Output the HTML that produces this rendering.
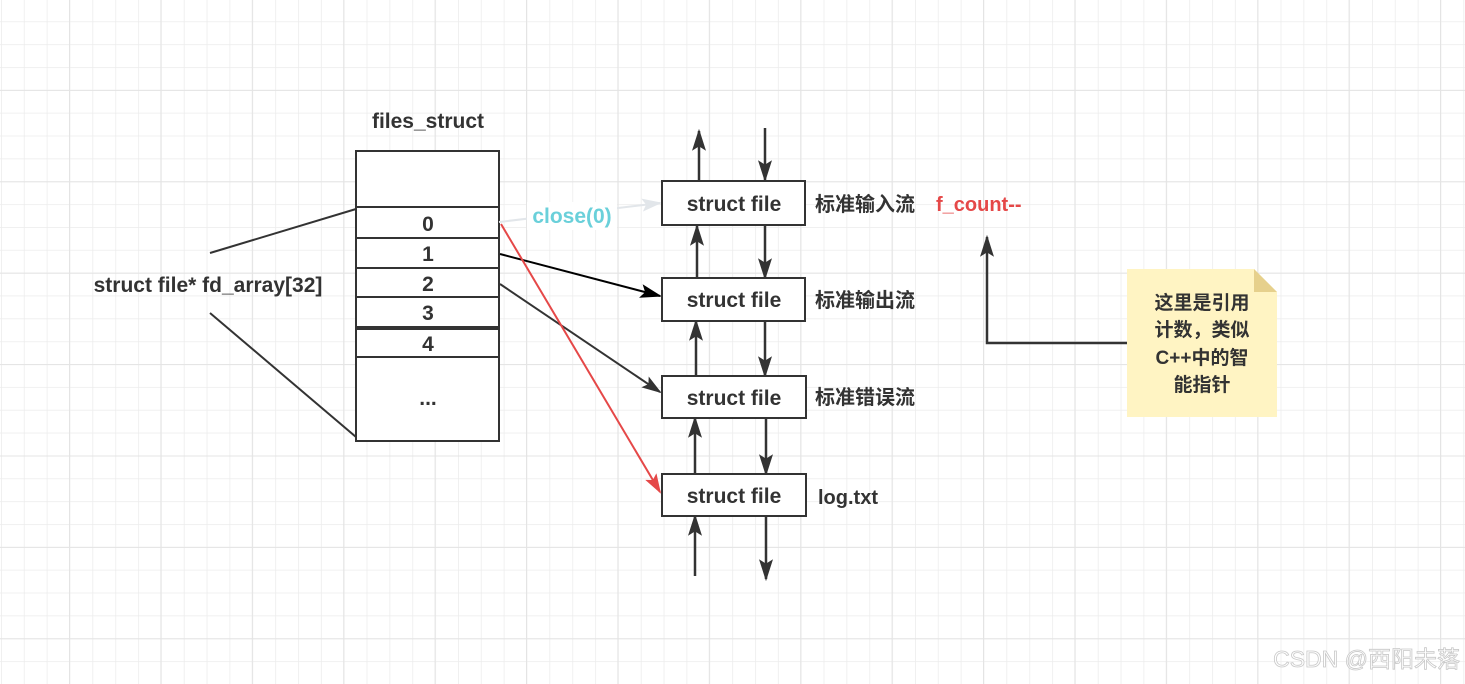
<!DOCTYPE html>
<html><head><meta charset="utf-8"><style>
html,body{margin:0;padding:0;background:#fff}
svg{display:block}
text{font-family:"Liberation Sans","Noto Sans CJK SC",sans-serif;font-weight:bold;fill:#333}
</style></head><body>
<svg width="1465" height="684" xmlns="http://www.w3.org/2000/svg">
<defs>
<pattern id="g" width="22.85" height="22.85" patternUnits="userSpaceOnUse" x="1" y="-1.5">
<path d="M0 0H22.85M0 0V22.85" stroke="#ececec" stroke-width="1.5" fill="none"/>
</pattern>
<pattern id="G" width="91.4" height="91.4" patternUnits="userSpaceOnUse" x="69" y="-1.5">
<path d="M0 0H91.4M0 0V91.4" stroke="#e4e4e4" stroke-width="2" fill="none"/>
</pattern>
<marker id="a" markerWidth="10" markerHeight="10" refX="9" refY="5" orient="auto" markerUnits="userSpaceOnUse" viewBox="0 0 10 10"><path d="M0 0L10 5L0 10z" fill="#333"/></marker>
<marker id="ak" viewBox="0 0 10 10" refX="9" refY="5" markerWidth="22" markerHeight="14" orient="auto" markerUnits="userSpaceOnUse" preserveAspectRatio="none"><path d="M0 0L10 5L0 10L2 5z" fill="#000"/></marker>
<marker id="ar" viewBox="0 0 10 10" refX="9" refY="5" markerWidth="20" markerHeight="13" orient="auto" markerUnits="userSpaceOnUse" preserveAspectRatio="none"><path d="M0 0L10 5L0 10L2 5z" fill="#e54848"/></marker>
<marker id="ad" viewBox="0 0 10 10" refX="9" refY="5" markerWidth="20" markerHeight="13" orient="auto" markerUnits="userSpaceOnUse" preserveAspectRatio="none"><path d="M0 0L10 5L0 10L2 5z" fill="#333"/></marker>
<marker id="al" viewBox="0 0 10 10" refX="9" refY="5" markerWidth="20" markerHeight="13" orient="auto" markerUnits="userSpaceOnUse" preserveAspectRatio="none"><path d="M0 0L10 5L0 10L2 5z" fill="#e2e6ea"/></marker>
<marker id="v" viewBox="0 0 10 10" refX="9" refY="5" markerWidth="22" markerHeight="14" orient="auto" markerUnits="userSpaceOnUse" preserveAspectRatio="none"><path d="M0 0L10 5L0 10L2 5z" fill="#333"/></marker>
</defs>
<rect width="1465" height="684" fill="url(#g)"/>
<rect width="1465" height="684" fill="url(#G)"/>

<!-- files_struct -->
<text x="428" y="128" text-anchor="middle" font-size="21">files_struct</text>
<g fill="#fff" stroke="#333" stroke-width="2">
<rect x="356" y="151" width="143" height="290"/>
<line x1="356" y1="207" x2="499" y2="207"/>
<line x1="356" y1="238" x2="499" y2="238"/>
<line x1="356" y1="268" x2="499" y2="268"/>
<line x1="356" y1="297" x2="499" y2="297"/>
<line x1="356" y1="327" x2="499" y2="327"/>
<line x1="356" y1="329" x2="499" y2="329"/>
<line x1="356" y1="357" x2="499" y2="357"/>
</g>
<g font-size="21" text-anchor="middle">
<text x="428" y="231">0</text><text x="428" y="261">1</text><text x="428" y="291">2</text>
<text x="428" y="320">3</text><text x="428" y="351">4</text><text x="428" y="405">...</text>
</g>
<text x="208" y="292" text-anchor="middle" font-size="21">struct file* fd_array[32]</text>
<line x1="210" y1="253" x2="356" y2="209" stroke="#333" stroke-width="2"/>
<line x1="210" y1="313" x2="356" y2="437" stroke="#333" stroke-width="2"/>

<!-- connectors -->
<line x1="499" y1="222" x2="660" y2="203" stroke="#e2e6ea" stroke-width="2" marker-end="url(#al)"/>
<rect x="527" y="202" width="90" height="28" fill="#fff"/>
<text x="572" y="223" text-anchor="middle" font-size="21" style="fill:#6ad0da">close(0)</text>
<line x1="500" y1="254" x2="660" y2="296" stroke="#000" stroke-width="2" marker-end="url(#ak)"/>
<line x1="500" y1="284" x2="660" y2="392" stroke="#333" stroke-width="2" marker-end="url(#ad)"/>
<line x1="501" y1="224" x2="660" y2="492" stroke="#e54848" stroke-width="2" marker-end="url(#ar)"/>

<!-- vertical arrows -->
<g stroke="#333" stroke-width="2.5">
<line x1="699" y1="180" x2="699" y2="131" marker-end="url(#v)"/>
<line x1="765" y1="128" x2="765" y2="180" marker-end="url(#v)"/>
<line x1="697" y1="278" x2="697" y2="226" marker-end="url(#v)"/>
<line x1="765" y1="226" x2="765" y2="278" marker-end="url(#v)"/>
<line x1="696" y1="376" x2="696" y2="321" marker-end="url(#v)"/>
<line x1="765" y1="321" x2="765" y2="376" marker-end="url(#v)"/>
<line x1="695" y1="474" x2="695" y2="418" marker-end="url(#v)"/>
<line x1="766" y1="418" x2="766" y2="474" marker-end="url(#v)"/>
<line x1="695" y1="576" x2="695" y2="516" marker-end="url(#v)"/>
<line x1="766" y1="516" x2="766" y2="579" marker-end="url(#v)"/>
</g>

<!-- struct file boxes -->
<g fill="#fff" stroke="#333" stroke-width="2">
<rect x="662" y="181" width="143" height="44"/>
<rect x="662" y="278" width="143" height="43"/>
<rect x="662" y="376" width="144" height="42"/>
<rect x="662" y="474" width="144" height="42"/>
</g>
<g font-size="21" text-anchor="middle">
<text x="734" y="211">struct file</text>
<text x="734" y="307">struct file</text>
<text x="734" y="405">struct file</text>
<text x="734" y="503">struct file</text>
</g>
<g font-size="20">
<text x="815" y="211">标准输入流</text>
<text x="936" y="211" style="fill:#e54848">f_count--</text>
<text x="815" y="307">标准输出流</text>
<text x="815" y="404">标准错误流</text>
<text x="818" y="504">log.txt</text>
</g>

<!-- note -->
<path d="M1128 343H987V237" fill="none" stroke="#333" stroke-width="2.5" marker-end="url(#v)"/>
<path d="M1127 269H1254L1277 292V417H1127z" fill="#fff4c3"/>
<path d="M1254 269L1277 292H1254z" fill="#e6d08c"/>
<g font-size="19" text-anchor="middle">
<text x="1202" y="309">这里是引用</text>
<text x="1202" y="336">计数，类似</text>
<text x="1202" y="364">C++中的智</text>
<text x="1202" y="391">能指针</text>
</g>

<text x="1460" y="667" text-anchor="end" font-size="23" style="font-weight:normal;fill:#fff;stroke:#c8c8c8;stroke-width:0.8">CSDN @西阳未落</text>
</svg>
</body></html>
